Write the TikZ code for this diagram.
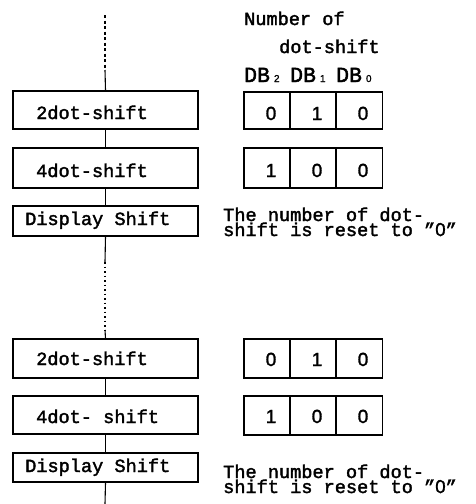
\documentclass[tikz,border=0pt]{standalone}
\usepackage{fontspec}
\setmainfont{Liberation Mono}
\newfontfamily\medfont{Liberation Mono}[FakeBold=2]
\newfontfamily\digfont{Liberation Sans}[FakeBold=1.5]
\newcommand\dbsub[1]{{\fontsize{21.5}{21.5}\selectfont DB}\makebox[20.2pt][l]{\hspace{4pt}\digfont\fontsize{10}{10}\selectfont #1}}
\newcommand\zer{{\digfont 0}}
\begin{document}
\begin{tikzpicture}[x=1pt,y=-1pt,
  every node/.style={font=\medfont\fontsize{18.6}{15}\selectfont},
  box/.style={draw, line width=1.2pt, minimum width=185pt, inner sep=0pt},
  cell/.style={draw, line width=1.2pt, minimum width=46pt, inner sep=0pt},
  lbl/.style={anchor=base west, inner sep=0pt},
  dig/.style={anchor=base, inner sep=0pt, font=\digfont\fontsize{19}{19}\selectfont},
  conn/.style={line width=1.1pt},
  dashconn/.style={line width=1.1pt, dash pattern=on 3pt off 2.5pt},
  dotconn/.style={line width=1.1pt, dash pattern=on 1.5pt off 3pt}]
\useasboundingbox (0,0) rectangle (475,504);

% left boxes
\node[box, minimum height=38pt] (b1) at (105.5,110) {};
\node[box, minimum height=40pt] (b2) at (105.5,168) {};
\node[box, minimum height=30pt] (b3) at (105.5,221) {};
\node[box, minimum height=39pt] (b4) at (105.5,358.5) {};
\node[box, minimum height=38pt] (b5) at (105.5,415) {};
\node[box, minimum height=29pt] (b6) at (105.5,467.5) {};

\node[lbl] (t1) at (36,119) {2dot-shift};
\node[lbl] (t2) at (36,177) {4dot-shift};
\node[lbl] (t3) at (25,225) {Display Shift};
\node[lbl] (t4) at (36,365) {2dot-shift};
\node[lbl] (t5) at (36,423) {4dot- shift};
\node[lbl] (t6) at (25,472) {Display Shift};

% connectors
\coordinate (c0) at (105,15);
\coordinate (c1) at (105,70);
\coordinate (c2) at (105,262);
\coordinate (c3) at (105,330);
\coordinate (c4) at (105,504);
\draw[dashconn] (c0) -- (c1);
\draw[conn] (c1) -- (b1.north);
\draw[conn] (b1.south) -- (b2.north);
\draw[conn] (b2.south) -- (b3.north);
\draw[conn] (b3.south) -- (c2);
\draw[dotconn] (c2) -- (c3);
\draw[conn] (c3) -- (b4.north);
\draw[conn] (b4.south) -- (b5.north);
\draw[conn] (b5.south) -- (b6.north);
\draw[conn] (b6.south) -- (c4);

% header
\node[lbl] (h1) at (244,25) {Number of};
\node[lbl] (h2) at (279,53) {dot-shift};
\node[lbl] (h3) at (244,82) {\dbsub{2}\dbsub{1}\dbsub{0}};

% register cells
\node[cell, minimum height=37pt] (r1a) at (267,110.5) {};
\node[cell, minimum height=37pt] (r1b) at (313,110.5) {};
\node[cell, minimum height=37pt] (r1c) at (359.5,110.5) {};
\node[cell, minimum height=40pt] (r2a) at (267,168) {};
\node[cell, minimum height=40pt] (r2b) at (313,168) {};
\node[cell, minimum height=40pt] (r2c) at (359.5,168) {};
\node[cell, minimum height=39pt] (r3a) at (267,358.5) {};
\node[cell, minimum height=39pt] (r3b) at (313,358.5) {};
\node[cell, minimum height=39pt] (r3c) at (359.5,358.5) {};
\node[cell, minimum height=39pt] (r4a) at (267,415.5) {};
\node[cell, minimum height=39pt] (r4b) at (313,415.5) {};
\node[cell, minimum height=39pt] (r4c) at (359.5,415.5) {};

\node[dig] (d1a) at (271,120) {0};
\node[dig] (d1b) at (317,120) {1};
\node[dig] (d1c) at (363,120) {0};
\node[dig] (d2a) at (271,177) {1};
\node[dig] (d2b) at (317,177) {0};
\node[dig] (d2c) at (363,177) {0};
\node[dig] (d3a) at (271,366) {0};
\node[dig] (d3b) at (317,366) {1};
\node[dig] (d3c) at (363,366) {0};
\node[dig] (d4a) at (271,423) {1};
\node[dig] (d4b) at (317,423) {0};
\node[dig] (d4c) at (363,423) {0};

% reset notes
\node[lbl, align=left] (n1) at (223,236) {The number of dot-\\shift is reset to ”\zer”};
\node[lbl, align=left] (n2) at (223,493) {The number of dot-\\shift is reset to ”\zer”};
\end{tikzpicture}
\end{document}
